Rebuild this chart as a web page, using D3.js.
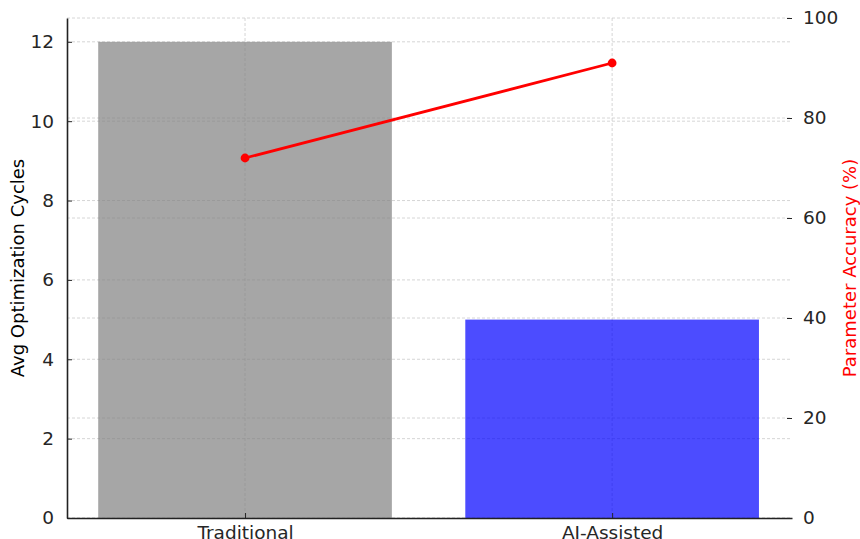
<!DOCTYPE html>
<html>
<head>
<meta charset="utf-8">
<script src="https://cdn.jsdelivr.net/npm/d3@7"></script>
<style>
  html, body { margin: 0; padding: 0; background: #fff; }
  svg { display: block; font-family: "DejaVu Sans", sans-serif; }
</style>
</head>
<body>
<svg id="chart" width="860" height="539"></svg>
<script>
// Data
const categories = ["Traditional", "AI-Assisted"];
const avgCycles = [12, 5];
const accuracy = [72, 91];
const barColors = ["gray", "blue"];
const leftTicks = [0, 2, 4, 6, 8, 10, 12];
const rightTicks = [0, 20, 40, 60, 80, 100];

const W = 860, H = 539;
const m = { left: 67, right: 68, top: 18, bottom: 21 };
const plotW = W - m.left - m.right;
const plotH = H - m.top - m.bottom;

const svg = d3.select("#chart");
const g = svg.append("g").attr("transform", `translate(${m.left},${m.top})`);

// Category positions on a continuous axis, bars 0.8 wide
const x = d3.scaleLinear().domain([-0.485, 1.49]).range([0, plotW]);
const yL = d3.scaleLinear().domain([0, 12.6]).range([plotH, 0]);
const yR = d3.scaleLinear().domain([0, 100]).range([plotH, 0]);

const gridStyle = sel => sel.attr("stroke", "#cccccc").attr("stroke-width", 0.8)
  .attr("stroke-dasharray", "3,2");

// Grids
g.append("g").selectAll("line").data(leftTicks).join("line")
  .attr("x1", 0).attr("x2", plotW)
  .attr("y1", d => yL(d)).attr("y2", d => yL(d)).call(gridStyle);
g.append("g").selectAll("line").data(rightTicks).join("line")
  .attr("x1", 0).attr("x2", plotW)
  .attr("y1", d => yR(d)).attr("y2", d => yR(d)).call(gridStyle);
g.append("g").selectAll("line").data(categories).join("line")
  .attr("x1", (d, i) => x(i)).attr("x2", (d, i) => x(i))
  .attr("y1", 0).attr("y2", plotH).call(gridStyle);

// Bars
g.append("g").selectAll("rect").data(avgCycles).join("rect")
  .attr("x", (d, i) => x(i - 0.4))
  .attr("width", (d, i) => x(i + 0.4) - x(i - 0.4))
  .attr("y", d => yL(d))
  .attr("height", d => plotH - yL(d))
  .attr("fill", (d, i) => barColors[i])
  .attr("fill-opacity", 0.7);

// Accuracy line
const line = d3.line().x((d, i) => x(i)).y(d => yR(d));
g.append("path").datum(accuracy)
  .attr("d", line).attr("fill", "none")
  .attr("stroke", "red").attr("stroke-width", 2.8);
g.append("g").selectAll("circle").data(accuracy).join("circle")
  .attr("cx", (d, i) => x(i)).attr("cy", d => yR(d))
  .attr("r", 4.4).attr("fill", "red");

// Axes
const tickColor = "#262626";
const styleAxis = (sel) => {
  sel.selectAll("text").attr("fill", tickColor).style("font-size", "18.5px")
    .style("font-family", "DejaVu Sans, sans-serif");
  sel.selectAll(".tick line").attr("stroke", tickColor);
};

const axL = g.append("g")
  .call(d3.axisLeft(yL).tickValues(leftTicks).tickSizeInner(-5).tickSizeOuter(0).tickPadding(13));
axL.select(".domain").attr("stroke", "#222").attr("stroke-width", 1.6);
styleAxis(axL);

const axB = g.append("g").attr("transform", `translate(0,${plotH})`)
  .call(d3.axisBottom(x).tickValues([0, 1]).tickFormat(i => categories[i])
    .tickSizeInner(-5).tickSizeOuter(0).tickPadding(8));
axB.select(".domain").attr("stroke", "#222").attr("stroke-width", 1.6);
styleAxis(axB);

const axR = g.append("g").attr("transform", `translate(${plotW},0)`)
  .call(d3.axisRight(yR).tickValues(rightTicks).tickSizeInner(-5).tickSizeOuter(0).tickPadding(11));
axR.select(".domain").remove();
styleAxis(axR);

// Axis titles
svg.append("text")
  .attr("transform", `translate(24,${m.top + plotH / 2}) rotate(-90)`)
  .attr("text-anchor", "middle").attr("fill", "#000")
  .style("font-size", "18px").text("Avg Optimization Cycles");
svg.append("text")
  .attr("transform", `translate(856,${m.top + plotH / 2}) rotate(-90)`)
  .attr("text-anchor", "middle").attr("fill", "red")
  .style("font-size", "18px").text("Parameter Accuracy (%)");
</script>
</body>
</html>
